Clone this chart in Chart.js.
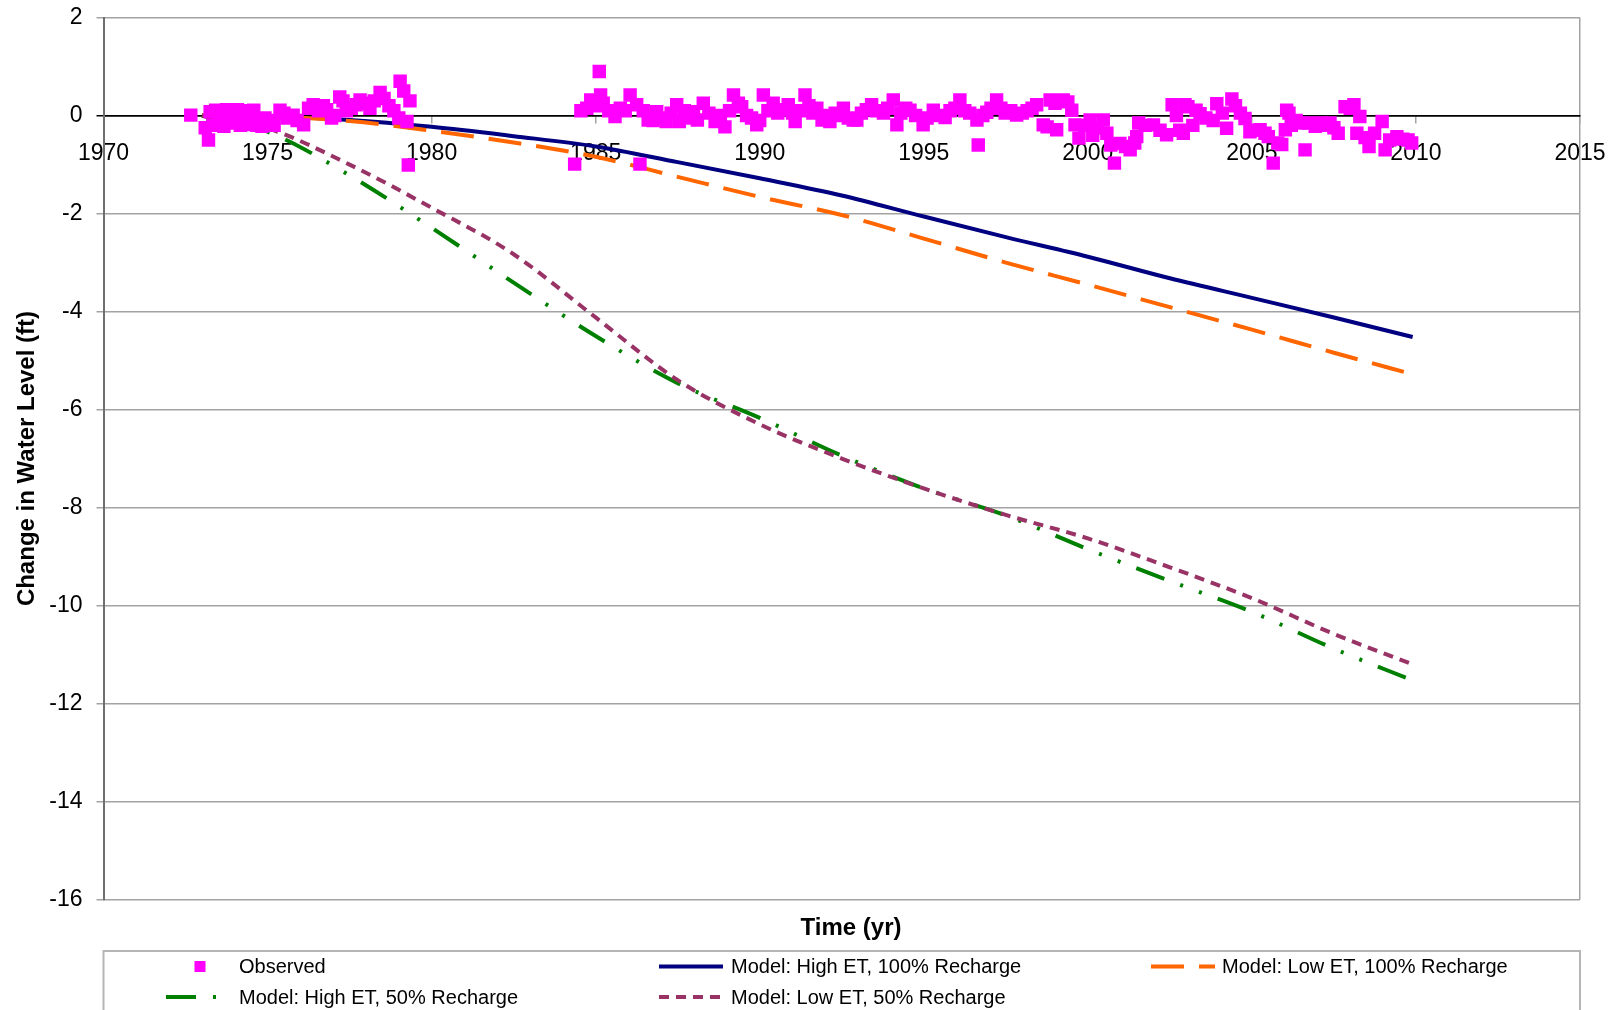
<!DOCTYPE html>
<html>
<head>
<meta charset="utf-8">
<script src="https://cdn.jsdelivr.net/npm/chart.js@4.4.0/dist/chart.umd.min.js"></script>
<style>
  html, body { margin: 0; padding: 0; background: #ffffff; }
  canvas { display: block; }
</style>
</head>
<body>
<canvas id="waterChart" width="1623" height="1010"></canvas>
<script>
// Observed water-level change (ft), by decimal year
const obsYears = [
  1972.66, 1973.10, 1973.20, 1973.25, 1973.33, 1973.42, 1973.50, 1973.58, 1973.67, 1973.75,
  1973.83, 1973.92, 1974.00, 1974.08, 1974.17, 1974.25, 1974.33, 1974.42, 1974.50, 1974.58,
  1974.67, 1974.75, 1974.83, 1974.92, 1975.00, 1975.10, 1975.20, 1975.38, 1975.50, 1975.60,
  1975.78, 1975.90, 1976.10, 1976.25, 1976.39, 1976.55, 1976.70, 1976.80, 1976.95, 1977.05,
  1977.20, 1977.30, 1977.40, 1977.55, 1977.70, 1977.82, 1977.95, 1978.12, 1978.25, 1978.43,
  1978.55, 1978.70, 1978.85, 1979.00, 1979.04, 1979.15, 1979.25, 1979.29, 1979.34,
  1984.36, 1984.55, 1984.73, 1984.85, 1985.00, 1985.11, 1985.15, 1985.23, 1985.40, 1985.59,
  1985.75, 1985.90, 1986.05, 1986.25, 1986.35, 1986.45, 1986.60, 1986.75, 1986.86, 1987.00,
  1987.15, 1987.30, 1987.47, 1987.55, 1987.70, 1987.85, 1987.98, 1988.10, 1988.28, 1988.45,
  1988.64, 1988.80, 1988.94, 1989.08, 1989.20, 1989.35, 1989.45, 1989.60, 1989.75, 1989.91,
  1990.00, 1990.11, 1990.25, 1990.41, 1990.55, 1990.70, 1990.87, 1991.00, 1991.08, 1991.22,
  1991.38, 1991.50, 1991.62, 1991.74, 1991.90, 1992.05, 1992.14, 1992.30, 1992.42, 1992.55,
  1992.70, 1992.85, 1992.96, 1993.10, 1993.25, 1993.41, 1993.55, 1993.77, 1993.90, 1994.07,
  1994.18, 1994.30, 1994.45, 1994.58, 1994.75, 1994.98, 1995.10, 1995.29, 1995.45, 1995.65,
  1995.80, 1995.95, 1996.10, 1996.25, 1996.40, 1996.62, 1996.66, 1996.80, 1996.92, 1997.05,
  1997.22, 1997.35, 1997.48, 1997.65, 1997.83, 1998.00, 1998.15, 1998.30, 1998.44, 1998.64,
  1998.76, 1998.85, 1999.00, 1999.05, 1999.15, 1999.25, 1999.39, 1999.51, 1999.61, 1999.73,
  1999.90, 2000.07, 2000.15, 2000.30, 2000.47, 2000.58, 2000.70, 2000.81, 2000.98, 2001.15,
  2001.29, 2001.43, 2001.49, 2001.55, 2001.75, 2002.00, 2002.20, 2002.40, 2002.57, 2002.70,
  2002.80, 2002.91, 2002.96, 2003.05, 2003.20, 2003.30, 2003.42, 2003.60, 2003.82, 2003.93,
  2004.10, 2004.23, 2004.39, 2004.50, 2004.65, 2004.79, 2004.94, 2005.10, 2005.25, 2005.40,
  2005.50, 2005.65, 2005.79, 2005.91, 2006.02, 2006.06, 2006.13, 2006.20, 2006.35, 2006.47,
  2006.62, 2006.75, 2006.93, 2007.10, 2007.25, 2007.38, 2007.50, 2007.63, 2007.84, 2008.00,
  2008.11, 2008.20, 2008.29, 2008.45, 2008.57, 2008.74, 2008.97, 2009.06, 2009.20, 2009.42,
  2009.60, 2009.76, 2009.87
];
const obsChange = [
  0.01, -0.25, -0.50, 0.08, -0.20, 0.11, -0.15, 0.10, -0.22, 0.12,
  -0.05, 0.10, -0.15, 0.12, -0.20, 0.10, -0.05, 0.08, -0.18, 0.11,
  -0.20, -0.08, -0.22, -0.05, -0.18, -0.10, -0.20, 0.11, 0.05, -0.05,
  0.01, -0.10, -0.19, 0.15, 0.22, 0.10, 0.20, 0.12, -0.05, 0.00,
  0.38, 0.30, 0.10, 0.15, 0.22, 0.32, 0.25, 0.15, 0.30, 0.47,
  0.35, 0.20, 0.10, -0.05, 0.70, 0.50, -0.12, -1.01, 0.30,
  -0.99, 0.10, 0.15, 0.32, 0.20, 0.90, 0.42, 0.25, 0.10, -0.02,
  0.15, 0.10, 0.42, 0.22, -0.99, 0.10, -0.09, -0.10, 0.08, -0.05,
  -0.12, 0.05, 0.22, -0.12, 0.10, -0.05, 0.08, -0.09, 0.25, 0.05,
  -0.12, 0.00, -0.23, 0.10, 0.42, 0.25, 0.18, 0.00, -0.05, -0.19,
  -0.10, 0.42, 0.10, 0.25, 0.05, 0.12, 0.22, 0.05, -0.12, 0.10,
  0.42, 0.20, 0.05, 0.15, -0.09, 0.00, -0.12, 0.05, 0.00, 0.15,
  -0.05, -0.09, -0.09, 0.05, 0.12, 0.22, 0.10, 0.05, 0.15, 0.32,
  -0.19, 0.05, 0.15, 0.11, 0.00, -0.19, -0.05, 0.11, 0.00, -0.04,
  0.10, 0.15, 0.32, 0.10, 0.05, -0.09, -0.60, 0.00, 0.07, 0.15,
  0.32, 0.15, 0.05, 0.10, 0.01, 0.05, 0.10, 0.15, 0.22, -0.19,
  -0.23, 0.32, 0.25, -0.29, 0.30, 0.32, 0.28, 0.11, -0.19, -0.46,
  -0.20, -0.09, -0.40, -0.25, -0.09, -0.36, -0.60, -0.97, -0.57, -0.63,
  -0.70, -0.56, -0.43, -0.15, -0.20, -0.19, -0.30, -0.39, 0.22, 0.00,
  -0.30, -0.36, 0.22, 0.18, -0.20, 0.11, 0.04, -0.05, -0.10, 0.24,
  0.05, -0.26, 0.34, 0.20, 0.05, -0.06, -0.33, -0.30, -0.29, -0.36,
  -0.43, -0.97, -0.56, -0.59, -0.29, 0.11, 0.05, -0.20, -0.10, -0.15,
  -0.70, -0.15, -0.22, -0.15, -0.20, -0.15, -0.25, -0.36, 0.18, 0.15,
  0.22, -0.36, -0.02, -0.45, -0.63, -0.36, -0.12, -0.70, -0.50, -0.43,
  -0.48, -0.50, -0.56
];

// Simulated water-level change (ft) for the four model scenarios
const modelYears = [1973, 1975, 1977.5, 1980, 1982.5, 1985, 1987.5, 1990, 1992.5, 1995, 1997.5, 2000, 2002.5, 2005, 2007.5, 2009.9];
const highEt100 = [0, -0.02, -0.09, -0.23, -0.42, -0.63, -0.95, -1.28, -1.63, -2.06, -2.48, -2.88, -3.32, -3.72, -4.12, -4.52];
const lowEt100  = [0, -0.02, -0.11, -0.31, -0.55, -0.84, -1.25, -1.66, -2.03, -2.51, -3.00, -3.45, -3.91, -4.37, -4.84, -5.28];
const highEt50  = [0, -0.33, -1.22, -2.29, -3.41, -4.50, -5.46, -6.17, -6.94, -7.61, -8.16, -8.85, -9.50, -10.13, -10.88, -11.53];
const lowEt50   = [0, -0.26, -1.00, -1.88, -2.83, -4.12, -5.40, -6.30, -7.00, -7.61, -8.15, -8.63, -9.22, -9.85, -10.58, -11.20];

// Axis ticks
const xTickYears = [1970, 1975, 1980, 1985, 1990, 1995, 2000, 2005, 2010, 2015];
const yTickFeet = [2, 0, -2, -4, -6, -8, -10, -12, -14, -16];

const FONT = "'Liberation Sans', Arial, Helvetica, sans-serif";
const GRID = '#a3a3a3';

const pairs = (xs, ys) => xs.map((x, i) => ({ x: x, y: ys[i] }));

function modelLine(label, values, color, dash, order) {
  return {
    label: label,
    data: pairs(modelYears, values),
    showLine: true,
    borderColor: color,
    backgroundColor: color,
    borderWidth: 4,
    borderDash: dash,
    borderCapStyle: 'butt',
    pointRadius: 0,
    pointHoverRadius: 0,
    cubicInterpolationMode: 'monotone',
    fill: false,
    order: order
  };
}

// Legend drawn in a boxed, three-column layout under the plot
const boxedLegend = {
  id: 'boxedLegend',
  afterDraw(chart) {
    const ctx = chart.ctx;
    const area = chart.chartArea;
    ctx.save();

    // x-axis title under the plot
    ctx.fillStyle = '#000';
    ctx.font = 'bold 24px ' + FONT;
    ctx.textAlign = 'center';
    ctx.textBaseline = 'middle';
    ctx.fillText('Time (yr)', 851, 928);

    // legend frame
    ctx.strokeStyle = '#b5b5b5';
    ctx.lineWidth = 2;
    ctx.strokeRect(area.left, 951, area.right - area.left, 80);

    const slots = [
      { sx: 200, tx: 239, y: 966.5 },
      { sx: 659, ex: 723, tx: 731, y: 966.5 },
      { sx: 1151, ex: 1215, tx: 1222, y: 966.5 },
      { sx: 166, ex: 222, tx: 239, y: 997 },
      { sx: 659, ex: 723, tx: 731, y: 997 }
    ];
    ctx.font = '20px ' + FONT;
    ctx.textAlign = 'left';
    chart.data.datasets.forEach((ds, i) => {
      const s = slots[i];
      if (ds.showLine) {
        ctx.beginPath();
        ctx.strokeStyle = ds.borderColor;
        ctx.lineWidth = 4;
        ctx.lineCap = 'butt';
        ctx.setLineDash(ds.borderDash || []);
        ctx.moveTo(s.sx, s.y);
        ctx.lineTo(s.ex, s.y);
        ctx.stroke();
        ctx.setLineDash([]);
      } else {
        ctx.fillStyle = ds.backgroundColor;
        ctx.fillRect(s.sx - 5.5, s.y - 5.5, 11, 11);
      }
      ctx.fillStyle = '#000';
      ctx.fillText(ds.label, s.tx, s.y + 1);
    });
    ctx.restore();
  }
};

new Chart(document.getElementById('waterChart'), {
  type: 'scatter',
  data: {
    datasets: [
      {
        label: 'Observed',
        data: pairs(obsYears, obsChange),
        showLine: false,
        pointStyle: 'rect',
        pointRadius: 9.5,
        pointHoverRadius: 9.5,
        borderWidth: 0,
        backgroundColor: '#ff00ff',
        borderColor: '#ff00ff',
        order: 0
      },
      modelLine('Model: High ET, 100% Recharge', highEt100, '#000080', [], 4),
      modelLine('Model: Low ET, 100% Recharge', lowEt100, '#ff6600', [33, 15], 3),
      modelLine('Model: High ET, 50% Recharge', highEt50, '#008000', [30, 17, 3, 17, 3, 17], 2),
      modelLine('Model: Low ET, 50% Recharge', lowEt50, '#993366', [10, 7], 1)
    ]
  },
  options: {
    responsive: false,
    devicePixelRatio: 1,
    animation: false,
    layout: { padding: { top: 17.6, right: 43, bottom: 110.5, left: 0 } },
    plugins: {
      legend: { display: false },
      tooltip: { enabled: false },
      title: { display: false }
    },
    scales: {
      x: {
        type: 'linear',
        min: 1970,
        max: 2015,
        position: { y: 0 },
        afterFit(scale) {
          scale.height = 0;
          scale.paddingLeft = 0;
          scale.paddingRight = 0;
        },
        afterBuildTicks(scale) { scale.ticks = xTickYears.map(v => ({ value: v })); },
        ticks: {
          font: { family: FONT, size: 23 },
          color: '#000',
          padding: 17,
          maxRotation: 0,
          autoSkip: false,
          callback: v => String(v)
        },
        grid: {
          drawOnChartArea: true,
          drawTicks: true,
          tickLength: 7,
          lineWidth: 1.5,
          color: ctx => (ctx.tick && ctx.tick.value === 2015 ? GRID : 'rgba(0,0,0,0)'),
          tickColor: GRID
        },
        border: { display: true, color: '#000', width: 1.5 }
      },
      y: {
        type: 'linear',
        min: -16,
        max: 2,
        position: 'left',
        afterFit(scale) {
          scale.width = 103.5;
          scale.paddingTop = 0;
          scale.paddingBottom = 0;
        },
        afterBuildTicks(scale) { scale.ticks = yTickFeet.map(v => ({ value: v })); },
        ticks: {
          font: { family: FONT, size: 23 },
          color: '#000',
          padding: 14,
          autoSkip: false,
          callback: v => String(v)
        },
        title: {
          display: true,
          text: 'Change in Water Level (ft)',
          font: { family: FONT, size: 24, weight: 'bold' },
          color: '#000',
          padding: { top: 13, bottom: 0 }
        },
        grid: {
          drawTicks: true,
          tickLength: 7,
          lineWidth: 1.5,
          color: ctx => (ctx.tick && ctx.tick.value === 0 ? '#000' : GRID)
        },
        border: { display: true, color: '#6f6f6f', width: 2 }
      }
    }
  },
  plugins: [boxedLegend]
});
</script>
</body>
</html>
